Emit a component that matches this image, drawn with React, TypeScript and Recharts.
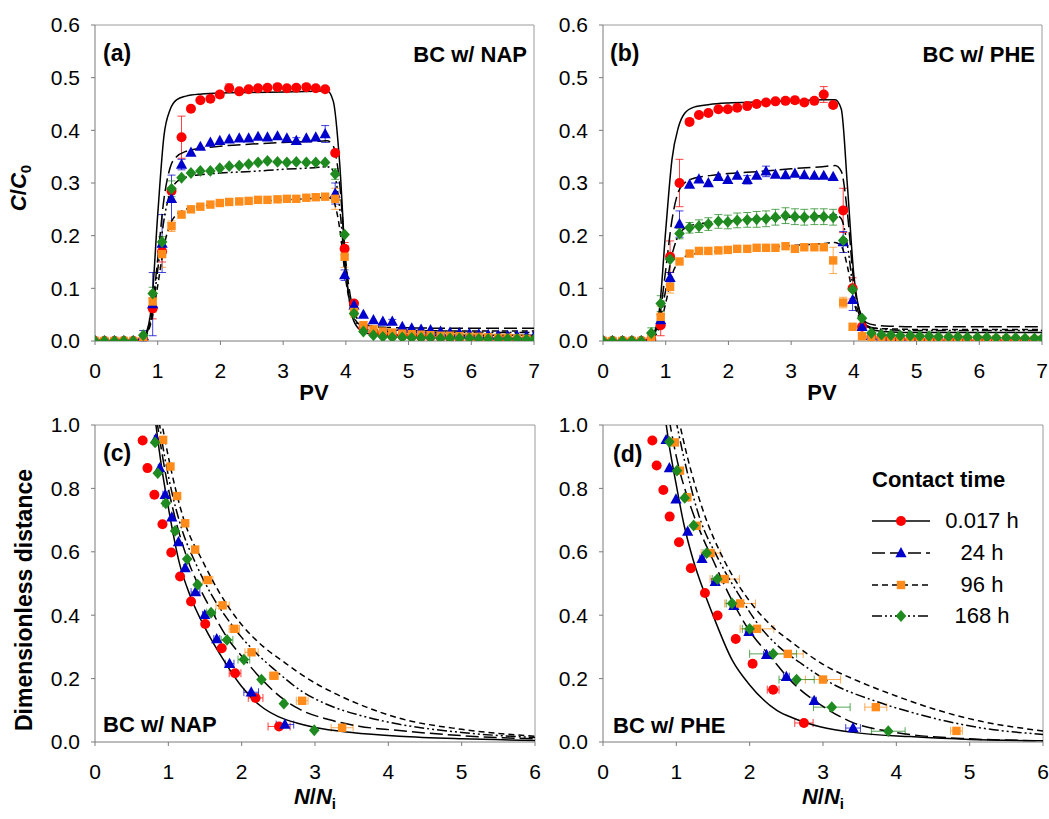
import { ComposedChart, Line, Scatter, XAxis, YAxis, ErrorBar, ReferenceLine } from 'recharts';

const FONT = '"Liberation Sans", Arial, Helvetica, sans-serif';
const RED = '#ff0000';
const BLUE = '#0000cc';
const ORANGE = '#ff8c1a';
const GREEN = '#1f8a1f';
const AXIS = '#7a7a7a';
const FRAME = '#9a9a9a';

// ---- panels (a) and (b): breakthrough curves, C/C0 vs PV ----
const pvSample = [
  0, 0.15, 0.31, 0.46, 0.61, 0.77, 0.92, 1.07, 1.22, 1.38, 1.53, 1.68, 1.84, 1.99, 2.14, 2.3,
  2.45, 2.6, 2.75, 2.91, 3.06, 3.21, 3.37, 3.52, 3.67, 3.83, 3.98, 4.13, 4.28, 4.44, 4.59, 4.74,
  4.9, 5.05, 5.2, 5.35, 5.51, 5.66, 5.81, 5.97, 6.12, 6.27, 6.43, 6.58, 6.73, 6.88, 7.0,
];

const napRed = [
  0, 0, 0, 0, 0, 0.003, 0.062, 0.17, 0.285, 0.387, 0.441, 0.457, 0.46, 0.468, 0.48, 0.474,
  0.478, 0.48, 0.481, 0.482, 0.48, 0.481, 0.482, 0.48, 0.478, 0.357, 0.175, 0.071, 0.025, 0.015,
  0.012, 0.01, 0.01, 0.009, 0.008, 0.008, 0.007, 0.007, 0.006, 0.006, 0.005, 0.005, 0.004,
  0.004, 0.003, 0.003, 0.003,
];
const napRedErr: Record<number, number> = { 6: 0.02, 7: 0.02, 9: 0.04, 13: 0.006, 14: 0.008, 26: 0.012 };

const napBlue = [
  0, 0, 0, 0, 0, 0.01, 0.07, 0.185, 0.27, 0.335, 0.358, 0.369, 0.377, 0.38, 0.383, 0.385,
  0.385, 0.388, 0.387, 0.389, 0.385, 0.38, 0.385, 0.387, 0.393, 0.28, 0.125, 0.068, 0.05, 0.04,
  0.037, 0.037, 0.027, 0.024, 0.022, 0.021, 0.018, 0.016, 0.015, 0.014, 0.013, 0.012, 0.011,
  0.01, 0.01, 0.009, 0.008,
];
const napBlueErr: Record<number, number> = {
  5: 0.01, 6: 0.06, 7: 0.055, 8: 0.045, 9: 0.01, 21: 0.006, 24: 0.016, 25: 0.02, 26: 0.01, 27: 0.007, 31: 0.004,
};

const napOrange = [
  0, 0, 0, 0, 0, 0.005, 0.075, 0.165, 0.218, 0.24, 0.25, 0.255, 0.259, 0.262, 0.264, 0.265,
  0.266, 0.268, 0.268, 0.269, 0.27, 0.27, 0.272, 0.273, 0.274, 0.27, 0.16, 0.055, 0.03, 0.022,
  0.018, 0.016, 0.014, 0.013, 0.012, 0.011, 0.01, 0.01, 0.009, 0.008, 0.008, 0.007, 0.006,
  0.006, 0.005, 0.004, 0,
];
const napOrangeErr: Record<number, number> = { 6: 0.02, 7: 0.025, 8: 0.01, 25: 0.02, 26: 0.02, 27: 0.01 };

const napGreen = [
  0, 0, 0, 0, 0, 0.011, 0.09, 0.188, 0.289, 0.31, 0.319, 0.323, 0.323, 0.328, 0.332, 0.333,
  0.336, 0.339, 0.342, 0.34, 0.339, 0.34, 0.339, 0.339, 0.339, 0.317, 0.202, 0.052, 0.018,
  0.011, 0.008, 0.007, 0.007, 0.006, 0.006, 0.006, 0.005, 0.005, 0.005, 0.005, 0.004, 0.004,
  0.004, 0.004, 0.004, 0.003, 0.003,
];
const napGreenErr: Record<number, number> = { 6: 0.012, 7: 0.01, 8: 0.015, 25: 0.01 };

const pheRed = [
  0, 0, 0, 0, 0, 0.003, 0.03, 0.16, 0.3, 0.416, 0.429, 0.433, 0.44, 0.44, 0.443, 0.446, 0.45,
  0.453, 0.455, 0.456, 0.457, 0.453, 0.456, 0.468, 0.448, 0.248, 0.1, 0.027, 0.008, 0.005,
  0.004, 0.003, 0.003, 0.002, 0.002, 0.002, 0.002, 0.001, 0.001, 0.001, 0.001, 0.001, 0.001,
  0.001, 0, 0, 0,
];
const pheRedErr: Record<number, number> = {
  6: 0.02, 7: 0.03, 8: 0.045, 19: 0.005, 20: 0.006, 23: 0.015, 24: 0.005, 25: 0.042, 26: 0.02,
};

const pheBlue = [
  0, 0, 0, 0, 0, 0.005, 0.04, 0.12, 0.222, 0.297, 0.307, 0.3, 0.312, 0.306, 0.314, 0.306,
  0.314, 0.322, 0.316, 0.315, 0.318, 0.315, 0.314, 0.314, 0.312, 0.188, 0.078, 0.027, 0.01,
  0.006, 0.005, 0.005, 0.005, 0.004, 0.004, 0.004, 0.004, 0.003, 0.003, 0.003, 0.003, 0.003,
  0.003, 0.002, 0.002, 0.002, 0.002,
];
const pheBlueErr: Record<number, number> = { 6: 0.01, 7: 0.01, 8: 0.025, 15: 0.008, 17: 0.01, 25: 0.02, 26: 0.02 };

const pheOrange = [
  0, 0, 0, 0, 0, 0.005, 0.046, 0.103, 0.151, 0.166, 0.171, 0.171, 0.172, 0.173, 0.175, 0.175,
  0.177, 0.177, 0.177, 0.18, 0.175, 0.178, 0.178, 0.178, 0.153, 0.073, 0.027, 0.009, 0.007,
  0.006, 0.006, 0.005, 0.005, 0.005, 0.004, 0.004, 0.004, 0.004, 0.003, 0.003, 0.003, 0.003,
  0.003, 0.002, 0.002, 0.002, 0.002,
];
const pheOrangeErr: Record<number, number> = { 6: 0.02, 7: 0.012, 24: 0.025, 25: 0.01 };

const pheGreen = [
  0, 0, 0, 0, 0, 0.015, 0.071, 0.155, 0.204, 0.215, 0.218, 0.222, 0.227, 0.226, 0.229, 0.23,
  0.231, 0.232, 0.235, 0.238, 0.236, 0.235, 0.236, 0.236, 0.235, 0.191, 0.098, 0.043, 0.015,
  0.012, 0.011, 0.01, 0.01, 0.009, 0.009, 0.008, 0.008, 0.008, 0.007, 0.007, 0.007, 0.006,
  0.006, 0.006, 0.005, 0.005, 0.005,
];
const pheGreenErr: Record<number, number> = {
  5: 0.01, 6: 0.015, 8: 0.01, 9: 0.01, 10: 0.012, 11: 0.012, 12: 0.013, 13: 0.013, 14: 0.014,
  15: 0.014, 16: 0.015, 17: 0.015, 18: 0.015, 19: 0.015, 20: 0.015, 21: 0.015, 22: 0.015, 23: 0.015, 24: 0.015,
};

// model fits
const pvModel = [0, 0.6, 0.7, 0.8, 0.9, 1.0, 1.1, 1.2, 1.3, 1.45, 1.7, 2.0, 2.5, 3.0, 3.5, 3.7, 3.8, 3.9, 4.0, 4.1, 4.2, 4.35, 4.6, 5.0, 6.0, 7.0];
const napFit017 = [0, 0, 0.002, 0.012, 0.065, 0.24, 0.39, 0.44, 0.458, 0.465, 0.469, 0.471, 0.472, 0.473, 0.474, 0.475, 0.455, 0.34, 0.14, 0.048, 0.024, 0.014, 0.012, 0.011, 0.011, 0.011];
const napFit24 = [0, 0, 0.002, 0.01, 0.05, 0.155, 0.27, 0.33, 0.35, 0.36, 0.366, 0.37, 0.374, 0.377, 0.379, 0.38, 0.37, 0.3, 0.15, 0.068, 0.04, 0.03, 0.026, 0.025, 0.024, 0.024];
const napFit96 = [0, 0, 0.001, 0.008, 0.038, 0.105, 0.18, 0.222, 0.24, 0.25, 0.256, 0.261, 0.265, 0.268, 0.271, 0.273, 0.266, 0.215, 0.115, 0.055, 0.033, 0.024, 0.021, 0.02, 0.019, 0.019];
const napFit168 = [0, 0, 0.002, 0.009, 0.045, 0.135, 0.23, 0.282, 0.302, 0.311, 0.316, 0.319, 0.322, 0.326, 0.329, 0.331, 0.323, 0.255, 0.125, 0.056, 0.03, 0.021, 0.018, 0.017, 0.016, 0.016];
const pheFit017 = [0, 0, 0.002, 0.012, 0.06, 0.21, 0.345, 0.405, 0.432, 0.444, 0.449, 0.452, 0.454, 0.456, 0.458, 0.458, 0.44, 0.29, 0.125, 0.052, 0.03, 0.02, 0.017, 0.016, 0.016, 0.016];
const pheFit24 = [0, 0, 0.002, 0.01, 0.045, 0.135, 0.23, 0.283, 0.3, 0.309, 0.314, 0.318, 0.322, 0.327, 0.331, 0.333, 0.322, 0.24, 0.11, 0.055, 0.035, 0.03, 0.028, 0.027, 0.027, 0.027];
const pheFit96 = [0, 0, 0.001, 0.006, 0.025, 0.072, 0.125, 0.15, 0.16, 0.165, 0.169, 0.173, 0.177, 0.181, 0.185, 0.187, 0.18, 0.14, 0.075, 0.04, 0.028, 0.024, 0.023, 0.022, 0.022, 0.022];
const pheFit168 = [0, 0, 0.002, 0.008, 0.035, 0.097, 0.163, 0.2, 0.214, 0.221, 0.225, 0.228, 0.232, 0.235, 0.238, 0.24, 0.232, 0.18, 0.09, 0.045, 0.03, 0.024, 0.021, 0.02, 0.02, 0.02];

// ---- panels (c) and (d): dimensionless distance vs N/Ni, [N/Ni, distance, x-error] ----
const napRedC = [[0.65, 0.951, 0], [0.715, 0.864, 0], [0.81, 0.78, 0], [0.92, 0.687, 0], [1.04, 0.598, 0], [1.16, 0.522, 0], [1.31, 0.443, 0], [1.503, 0.372, 0], [1.728, 0.296, 0], [1.91, 0.217, 0.08], [2.19, 0.139, 0.1], [2.51, 0.049, 0.15]];
const napBlueC = [[0.829, 0.956, 0.02], [0.883, 0.864, 0.02], [0.956, 0.78, 0.03], [1.047, 0.709, 0.03], [1.138, 0.631, 0], [1.23, 0.549, 0.02], [1.37, 0.473, 0.06], [1.497, 0.401, 0.03], [1.66, 0.325, 0.04], [1.835, 0.247, 0.06], [2.13, 0.157, 0.1], [2.59, 0.055, 0.12]];
const napOrangeC = [[0.929, 0.953, 0.02], [1.029, 0.869, 0.02], [1.12, 0.776, 0.02], [1.23, 0.69, 0.03], [1.366, 0.607, 0.03], [1.537, 0.511, 0.07], [1.74, 0.431, 0.09], [1.9, 0.357, 0.07], [2.135, 0.283, 0.09], [2.44, 0.209, 0.06], [2.825, 0.13, 0.08], [3.37, 0.045, 0.15]];
const napGreenC = [[0.82, 0.945, 0], [0.856, 0.848, 0], [0.965, 0.753, 0.04], [1.093, 0.666, 0.03], [1.257, 0.577, 0], [1.4, 0.496, 0.03], [1.583, 0.408, 0.06], [1.8, 0.322, 0.08], [2.03, 0.26, 0.08], [2.27, 0.197, 0], [2.575, 0.121, 0], [2.99, 0.037, 0]];

const pheRedD = [[0.673, 0.951, 0], [0.732, 0.872, 0], [0.823, 0.795, 0], [0.909, 0.711, 0], [1.036, 0.63, 0], [1.198, 0.548, 0], [1.39, 0.47, 0], [1.562, 0.399, 0], [1.81, 0.325, 0], [2.04, 0.247, 0], [2.32, 0.165, 0.08], [2.74, 0.06, 0.125]];
const pheBlueD = [[0.86, 0.953, 0], [0.905, 0.864, 0], [0.995, 0.766, 0], [1.155, 0.664, 0], [1.35, 0.578, 0.03], [1.53, 0.505, 0.05], [1.785, 0.43, 0.05], [1.99, 0.348, 0.05], [2.23, 0.275, 0.04], [2.5, 0.206, 0.04], [2.88, 0.13, 0.03], [3.41, 0.044, 0.1]];
const pheOrangeD = [[0.98, 0.945, 0], [1.05, 0.856, 0], [1.15, 0.772, 0], [1.277, 0.682, 0], [1.468, 0.596, 0.13], [1.66, 0.514, 0.2], [1.87, 0.437, 0.21], [2.1, 0.357, 0.23], [2.52, 0.278, 0.21], [3.0, 0.197, 0.24], [3.72, 0.11, 0.15], [4.82, 0.035, 0.08]];
const pheGreenD = [[0.905, 0.947, 0], [1.009, 0.856, 0], [1.114, 0.77, 0], [1.236, 0.683, 0], [1.414, 0.596, 0.05], [1.56, 0.514, 0.07], [1.76, 0.437, 0.08], [2.0, 0.357, 0.1], [2.32, 0.278, 0.32], [2.64, 0.197, 0.24], [3.12, 0.11, 0.25], [3.89, 0.034, 0.23]];

const napFit017C = [[0.82, 1.02], [0.9, 0.88], [1.0, 0.74], [1.15, 0.565], [1.3, 0.46], [1.5, 0.36], [1.75, 0.26], [2.0, 0.175], [2.25, 0.115], [2.5, 0.08], [2.75, 0.06], [3.0, 0.046], [3.5, 0.03], [4.15, 0.018], [5.0, 0.01], [6.0, 0.005]];
const napFit24C = [[0.84, 1.02], [0.9, 0.93], [1.0, 0.8], [1.1, 0.7], [1.28, 0.565], [1.4, 0.5], [1.6, 0.41], [1.8, 0.33], [2.04, 0.26], [2.28, 0.196], [2.57, 0.135], [2.8, 0.102], [3.2, 0.07], [3.6, 0.05], [4.15, 0.036], [5.0, 0.02], [6.0, 0.01]];
const napFit96C = [[0.9, 1.02], [1.0, 0.9], [1.2, 0.71], [1.48, 0.565], [1.7, 0.47], [2.0, 0.37], [2.3, 0.3], [2.56, 0.255], [2.9, 0.2], [3.3, 0.15], [3.7, 0.11], [4.15, 0.075], [5.0, 0.04], [6.0, 0.018]];
const napFit168C = [[0.87, 1.02], [0.9, 0.97], [1.0, 0.84], [1.2, 0.66], [1.37, 0.565], [1.6, 0.46], [1.8, 0.39], [2.0, 0.33], [2.2, 0.28], [2.44, 0.23], [2.82, 0.16], [3.2, 0.115], [3.6, 0.085], [4.15, 0.056], [5.0, 0.03], [6.0, 0.014]];

const pheFit017D = [[0.85, 1.02], [0.9, 0.94], [1.0, 0.81], [1.1, 0.69], [1.23, 0.574], [1.4, 0.46], [1.5, 0.4], [1.76, 0.259], [2.0, 0.18], [2.37, 0.1], [2.6, 0.075], [2.96, 0.048], [3.5, 0.028], [4.19, 0.017], [5.0, 0.008], [6.0, 0.004]];
const pheFit24D = [[0.9, 1.02], [1.0, 0.9], [1.2, 0.74], [1.35, 0.65], [1.5, 0.574], [1.71, 0.469], [1.96, 0.364], [2.32, 0.259], [2.55, 0.196], [3.0, 0.112], [3.4, 0.062], [4.0, 0.03], [5.0, 0.01], [6.0, 0.004]];
const pheFit96D = [[1.03, 1.02], [1.15, 0.9], [1.35, 0.74], [1.65, 0.574], [1.95, 0.46], [2.28, 0.37], [2.6, 0.31], [3.0, 0.245], [3.5, 0.19], [4.0, 0.145], [4.5, 0.105], [5.14, 0.066], [6.0, 0.035]];
const pheFit168D = [[0.99, 1.02], [1.1, 0.9], [1.3, 0.72], [1.58, 0.574], [1.84, 0.469], [2.14, 0.364], [2.4, 0.3], [2.69, 0.25], [3.1, 0.187], [3.7, 0.13], [4.23, 0.092], [5.14, 0.045], [6.0, 0.024]];

const contactTimes = ['0.017 h', '24 h', '96 h', '168 h'];
const pvTicks = [0, 1, 2, 3, 4, 5, 6, 7];
const ccTicks = [0, 0.1, 0.2, 0.3, 0.4, 0.5, 0.6];
const nTicks = [0, 1, 2, 3, 4, 5, 6];
const distTicks = [0, 0.2, 0.4, 0.6, 0.8, 1.0];

// order: 0.017 h, 24 h, 96 h, 168 h
const SERIES = [
  { kind: 'circle', color: RED, dash: undefined as string | undefined },
  { kind: 'triangle', color: BLUE, dash: '13 5' },
  { kind: 'square', color: ORANGE, dash: '6 4' },
  { kind: 'diamond', color: GREEN, dash: '10 3 2 3 2 3' },
];

const sampled = (ys: number[], errs: Record<number, number>) =>
  ys.map((y, i) => ({ x: pvSample[i], y, e: errs[i] ?? 0 }));
const curve = (ys: number[]) => ys.map((y, i) => ({ x: pvModel[i], y }));
const rows = (r: number[][]) => r.map(([x, y, e]) => ({ x, y, e: e ?? 0 }));

function Marker({ cx, cy, kind }: any) {
  if (cx == null || cy == null) return null;
  if (kind === 'circle') return <circle cx={cx} cy={cy} r={5} fill={RED} />;
  if (kind === 'triangle')
    return <polygon points={`${cx},${cy - 6} ${cx + 5.6},${cy + 4.2} ${cx - 5.6},${cy + 4.2}`} fill={BLUE} />;
  if (kind === 'square') return <rect x={cx - 4.2} y={cy - 4.2} width={8.4} height={8.4} fill={ORANGE} />;
  return <polygon points={`${cx},${cy - 5.9} ${cx + 5.3},${cy} ${cx},${cy + 5.9} ${cx - 5.3},${cy}`} fill={GREEN} />;
}

const tickStyle = { fill: '#000', fontSize: 21, fontFamily: FONT };

function Panel(props: any) {
  const { left, top, width, margin, yWidth, xDomain, xTicks, yDomain, yTicks, points, fits, errDir } = props;
  return (
    <div style={{ position: 'absolute', left, top }}>
      <ComposedChart width={width} height={400} margin={margin}>
        <XAxis
          type="number"
          dataKey="x"
          domain={xDomain}
          ticks={xTicks}
          interval={0}
          allowDataOverflow
          height={40}
          tickSize={4}
          tickMargin={18}
          axisLine={{ stroke: AXIS }}
          tickLine={{ stroke: AXIS }}
          tick={tickStyle}
        />
        <YAxis
          type="number"
          dataKey="y"
          domain={yDomain}
          ticks={yTicks}
          interval={0}
          allowDataOverflow
          width={yWidth}
          tickSize={4}
          tickMargin={11}
          axisLine={{ stroke: AXIS }}
          tickLine={{ stroke: AXIS }}
          tick={tickStyle}
          tickFormatter={(v: number) => v.toFixed(1)}
        />
        <ReferenceLine y={yDomain[1]} stroke={FRAME} strokeWidth={1} />
        <ReferenceLine x={xDomain[1]} stroke={FRAME} strokeWidth={1} />
        {points.map((pts: any[], k: number) => (
          <Scatter
            key={`s${k}`}
            data={pts}
            dataKey="y"
            isAnimationActive={false}
            shape={(p: any) => <Marker cx={p.cx} cy={p.cy} kind={SERIES[k].kind} />}
          >
            <ErrorBar dataKey="e" direction={errDir} width={4} stroke={SERIES[k].color} strokeWidth={1} strokeOpacity={0.75} />
          </Scatter>
        ))}
        {fits.map((f: any[], k: number) => (
          <Line
            key={`l${k}`}
            data={f}
            dataKey="y"
            type="monotone"
            stroke="#000"
            strokeWidth={1.5}
            strokeDasharray={SERIES[k].dash}
            dot={false}
            activeDot={false}
            isAnimationActive={false}
          />
        ))}
      </ComposedChart>
    </div>
  );
}

function Text({ x, y, children, size = 22, bold = true, anchor = 'left', rotate = false }: any) {
  const tx = anchor === 'center' ? '-50%' : anchor === 'right' ? '-100%' : '0';
  return (
    <div
      style={{
        position: 'absolute',
        left: x,
        top: y,
        transform: rotate ? 'translate(-50%,-50%) rotate(-90deg)' : `translate(${tx},-50%)`,
        fontFamily: FONT,
        fontSize: size,
        fontWeight: bold ? 'bold' : 'normal',
        lineHeight: 1,
        whiteSpace: 'nowrap',
        color: '#000',
      }}
    >
      {children}
    </div>
  );
}

function LegendBox() {
  const rowsY = [521, 553, 585, 616];
  return (
    <>
      <Text x={872} y={480} size={22}>Contact time</Text>
      <svg style={{ position: 'absolute', left: 0, top: 0 }} width={1049} height={819}>
        {SERIES.map((s, k) => (
          <g key={k}>
            <line x1={872} x2={930} y1={rowsY[k]} y2={rowsY[k]} stroke="#000" strokeWidth={1.5} strokeDasharray={s.dash} />
            <Marker cx={901} cy={rowsY[k]} kind={s.kind} />
          </g>
        ))}
      </svg>
      {contactTimes.map((t, k) => (
        <Text key={t} x={982} y={rowsY[k]} size={22} bold={false} anchor="center">{t}</Text>
      ))}
    </>
  );
}

export default function App() {
  const napPts = [sampled(napRed, napRedErr), sampled(napBlue, napBlueErr), sampled(napOrange, napOrangeErr), sampled(napGreen, napGreenErr)];
  const phePts = [sampled(pheRed, pheRedErr), sampled(pheBlue, pheBlueErr), sampled(pheOrange, pheOrangeErr), sampled(pheGreen, pheGreenErr)];
  const napFits = [curve(napFit017), curve(napFit24), curve(napFit96), curve(napFit168)];
  const pheFits = [curve(pheFit017), curve(pheFit24), curve(pheFit96), curve(pheFit168)];
  const napDist = [rows(napRedC), rows(napBlueC), rows(napOrangeC), rows(napGreenC)];
  const pheDist = [rows(pheRedD), rows(pheBlueD), rows(pheOrangeD), rows(pheGreenD)];
  const napDistFits = [rows(napFit017C), rows(napFit24C), rows(napFit96C), rows(napFit168C)];
  const pheDistFits = [rows(pheFit017D), rows(pheFit24D), rows(pheFit96D), rows(pheFit168D)];

  return (
    <div style={{ position: 'absolute', left: 0, top: 0, width: 1049, height: 819, background: '#fff', overflow: 'hidden', fontFamily: FONT }}>
      <Panel left={0} top={0} width={545} margin={{ top: 25, right: 11, bottom: 19, left: 0 }} yWidth={95}
        xDomain={[0, 7]} xTicks={pvTicks} yDomain={[0, 0.6]} yTicks={ccTicks} points={napPts} fits={napFits} errDir="y" />
      <Panel left={545} top={0} width={504} margin={{ top: 25, right: 7, bottom: 19, left: 0 }} yWidth={58}
        xDomain={[0, 7]} xTicks={pvTicks} yDomain={[0, 0.6]} yTicks={ccTicks} points={phePts} fits={pheFits} errDir="y" />
      <Panel left={0} top={400} width={545} margin={{ top: 25, right: 10, bottom: 18, left: 0 }} yWidth={95}
        xDomain={[0, 6]} xTicks={nTicks} yDomain={[0, 1]} yTicks={distTicks} points={napDist} fits={napDistFits} errDir="x" />
      <Panel left={545} top={400} width={504} margin={{ top: 25, right: 6, bottom: 18, left: 0 }} yWidth={58}
        xDomain={[0, 6]} xTicks={nTicks} yDomain={[0, 1]} yTicks={distTicks} points={pheDist} fits={pheDistFits} errDir="x" />

      <Text x={103} y={53} size={23}>(a)</Text>
      <Text x={527} y={55} size={22} anchor="right">BC w/ NAP</Text>
      <Text x={610} y={53} size={23}>(b)</Text>
      <Text x={1035} y={55} size={22} anchor="right">BC w/ PHE</Text>
      <Text x={103} y={453} size={23}>(c)</Text>
      <Text x={103} y={725} size={22}>BC w/ NAP</Text>
      <Text x={613} y={454} size={23}>(d)</Text>
      <Text x={613} y={726} size={22}>BC w/ PHE</Text>

      <Text x={19} y={188} size={22} rotate>
        <i>C</i>/<i>C</i><span style={{ fontSize: 15, position: 'relative', top: 5 }}>0</span>
      </Text>
      <Text x={24} y={600} size={23} rotate>Dimensionless distance</Text>
      <Text x={314} y={393} size={22} anchor="center">PV</Text>
      <Text x={822} y={393} size={22} anchor="center">PV</Text>
      <Text x={315} y={797} size={22} anchor="center">
        <i>N</i>/<i>N</i><span style={{ fontSize: 15, position: 'relative', top: 5 }}>i</span>
      </Text>
      <Text x={823} y={797} size={22} anchor="center">
        <i>N</i>/<i>N</i><span style={{ fontSize: 15, position: 'relative', top: 5 }}>i</span>
      </Text>

      <LegendBox />
    </div>
  );
}
